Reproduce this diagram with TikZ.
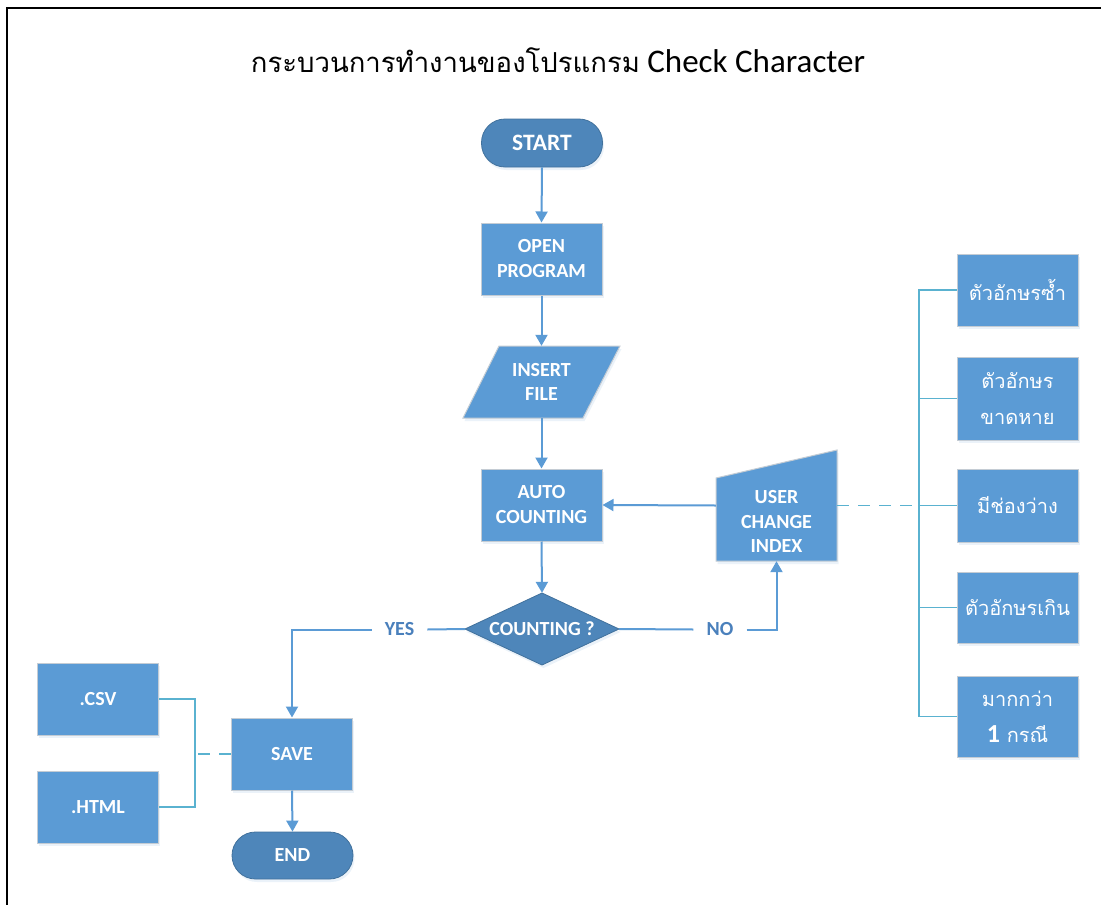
\documentclass[tikz,border=0pt]{standalone}
\usepackage{fontspec}
\setmainfont{Carlito}
\newfontfamily\thaifont[Script=Thai]{Loma}
\usetikzlibrary{arrows.meta,shadows}
\definecolor{boxblue}{HTML}{5B9BD5}
\definecolor{darkblue}{HTML}{4E86BA}
\definecolor{darkedge}{HTML}{41719C}
\definecolor{edgegray}{HTML}{C4CCD4}
\definecolor{lineblue}{HTML}{5B9BD5}
\definecolor{tealline}{HTML}{5AB2D0}
\definecolor{labelblue}{HTML}{4A80BC}
\tikzset{
  shade/.style={drop shadow={shadow xshift=1.5pt,shadow yshift=-3pt,opacity=0.12,fill=boxblue}},
  boxnode/.style={rectangle,fill=boxblue,draw=edgegray,line width=1pt,minimum width=121pt,
    minimum height=72pt,text=white,align=center,inner sep=0pt,shade,
    font=\bfseries\fontsize{20}{25}\selectfont},
  thaibox/.style={boxnode,font=\thaifont\fontsize{20}{36}\selectfont},
  pill/.style={rectangle,rounded corners=23.5pt,fill=darkblue,draw=darkedge,line width=0.8pt,
    minimum width=121pt,text=white,inner sep=0pt,shade,font=\bfseries\fontsize{23.5}{26}\selectfont},
  ghost/.style={rectangle,inner sep=0pt,minimum width=121pt,minimum height=72pt},
  txt/.style={text=white,align=center,inner sep=0pt,font=\bfseries\fontsize{20}{24.5}\selectfont},
  flow/.style={draw=lineblue,line width=2pt,-{Triangle[width=12pt,length=11pt]}},
  plain/.style={draw=lineblue,line width=2pt},
  bracket/.style={draw=tealline,line width=1.5pt},
  dashline/.style={draw=tealline,line width=1.5pt,dash pattern=on 12pt off 9pt},
  yn/.style={text=labelblue,inner xsep=13pt,inner ysep=0pt,font=\bfseries\fontsize{20}{22}\selectfont},
}
\begin{document}
\begin{tikzpicture}[x=1pt,y=-1pt]
\useasboundingbox (0,0) rectangle (1101,905);
\fill[white] (0,0) rectangle (1101,905);
\draw[line width=2pt,black] (7,905) -- (7,7.5) -- (1101,7.5);

% title
\node[font=\fontsize{33}{36}\selectfont] (title) at (558,60)
  {{\thaifont\fontsize{27.5}{36}\selectfont กระบวนการทำงานของโปรแกรม} Check Character};

% main column
\node[pill,minimum height=48pt] (start) at (542,143) {START};
\node[boxnode] (open) at (541.5,259) {OPEN\\PROGRAM};
\path[fill=boxblue,draw=edgegray,line width=1pt,shade]
  (463,418) -- (499,346) -- (620,346) -- (583,418) -- cycle;
\node[ghost] (ins) at (541.5,382) {};
\node[txt] at (541.5,382) {INSERT\\FILE};
\node[boxnode] (auto) at (541.5,505) {AUTO\\COUNTING};
\path[fill=darkblue,draw=darkedge,line width=0.8pt,shade]
  (465,629) -- (542,593) -- (619,629) -- (542,665) -- cycle;
\node[ghost,minimum width=154pt] (cnt) at (542,629) {};
\node[txt] at (542,629) {COUNTING ?};

% user change index
\path[fill=boxblue,draw=edgegray,line width=1pt,shade]
  (716,478) -- (837,450) -- (837,561) -- (716,561) -- cycle;
\node[ghost,minimum height=111pt] (uci) at (776.5,505.5) {};
\node[txt] at (776.5,521.5) {USER\\CHANGE\\INDEX};

% save branch
\node[boxnode] (save) at (292,754) {SAVE};
\node[pill,minimum height=47pt,font=\bfseries\fontsize{20}{24}\selectfont] (end) at (292.5,855.5) {END};
\node[boxnode] (csv) at (98,699) {.CSV};
\node[boxnode] (html) at (98,807) {.HTML};

% right boxes
\node[thaibox] (r1) at (1017.5,290) {ตัวอักษรซ้ำ};
\node[thaibox,minimum height=83pt] (r2) at (1017.5,398.5) {ตัวอักษร\\ขาดหาย};
\node[thaibox,minimum height=73pt] (r3) at (1017.5,505.5) {มีช่องว่าง};
\node[thaibox,minimum height=71pt] (r4) at (1017.5,607.5) {ตัวอักษรเกิน};
\node[thaibox,minimum height=81pt] (r5) at (1017.5,716.5) {มากกว่า\\{\bfseries\fontspec{Carlito}\fontsize{26}{36}\selectfont 1} กรณี};

% labels
\node[yn] (no) at (720,629.5) {NO};
\node[yn] (yes) at (399.5,629.5) {YES};

% connectors
\draw[flow] (start.south) -- (open.north);
\draw[flow] (open.south) -- (ins.north);
\draw[flow] (ins.south) -- (auto.north);
\draw[flow] (auto.south) -- (cnt.north);
\draw[flow] (uci.west) -- (auto.east);
\draw[plain] (cnt.east) -- (no.west);
\draw[flow] (no.east) -| (uci.south);
\draw[plain] (cnt.west) -- (yes.east);
\draw[flow] (yes.west) -| (save.north);
\draw[flow] (save.south) -- (end.north);

\coordinate (lb) at (195,754);
\draw[bracket] (csv.east) -| (lb) |- (html.east);
\draw[dashline] (lb) ++(3,0) -- (save.west);

\coordinate (rb) at (919,505.5);
\draw[bracket] (r1.west) -| (rb) |- (r5.west);
\draw[bracket] (r2.west) -- (r2.west -| rb);
\draw[bracket] (r3.west) -- (rb);
\draw[bracket] (r4.west) -- (r4.west -| rb);
\draw[dashline] (uci.east) -- (rb);
\end{tikzpicture}
\end{document}
